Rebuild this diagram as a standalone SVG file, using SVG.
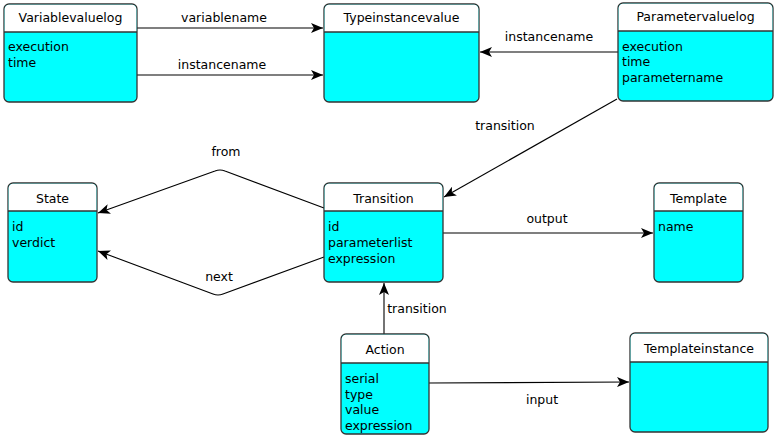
<svg xmlns="http://www.w3.org/2000/svg" width="774" height="436" viewBox="0 0 774 436">
  <style>
    .box { fill: #00ffff; stroke: #333; stroke-width: 1.3; }
    .head { fill: #ffffff; }
    .div { stroke: #333; stroke-width: 1.3; }
    .title { font-family: "DejaVu Sans", sans-serif; font-size: 12.5px; fill: #000; text-anchor: middle; }
    .attr { font-family: "DejaVu Sans", sans-serif; font-size: 12.5px; fill: #000; }
    .lbl { font-family: "DejaVu Sans", sans-serif; font-size: 12.5px; fill: #000; text-anchor: middle; }
    .edge { fill: none; stroke: #000; stroke-width: 1.1; }
  </style>
  <defs>
    <marker id="arrow" viewBox="0 0 12 10" refX="12" refY="5" markerWidth="12" markerHeight="10" markerUnits="userSpaceOnUse" orient="auto">
      <path d="M0,0 L12,5 L0,10 L3,5 Z" fill="#000"/>
    </marker>
  </defs>

  <rect width="774" height="436" fill="#ffffff"/>

  <!-- connectors -->
  <g id="connectors">
    <path class="edge" d="M137,28 L323,28" marker-end="url(#arrow)"/>
    <text class="lbl" x="224" y="22">variablename</text>
    <path class="edge" d="M137,75 L323,75" marker-end="url(#arrow)"/>
    <text class="lbl" x="222" y="69">instancename</text>
    <path class="edge" d="M618,52 L480,52" marker-end="url(#arrow)"/>
    <text class="lbl" x="549" y="41">instancename</text>
    <path class="edge" d="M617,99 L444,197" marker-end="url(#arrow)"/>
    <text class="lbl" x="505" y="130">transition</text>
    <path class="edge" d="M324,208 L225,171 Q220,169 215,171 L98,213" marker-end="url(#arrow)"/>
    <text class="lbl" x="226" y="156">from</text>
    <path class="edge" d="M324,257 L223,294 Q218,296 213,294 L98,251" marker-end="url(#arrow)"/>
    <text class="lbl" x="219" y="281">next</text>
    <path class="edge" d="M443,233 L653,233" marker-end="url(#arrow)"/>
    <text class="lbl" x="547" y="223">output</text>
    <path class="edge" d="M384,334 L384,283" marker-end="url(#arrow)"/>
    <text class="lbl" x="417" y="313">transition</text>
    <path class="edge" d="M429,383 L629,382" marker-end="url(#arrow)"/>
    <text class="lbl" x="542" y="404">input</text>
  </g>

  <!-- Variablevaluelog -->
  <g id="variablevaluelog">
    <rect class="box" x="4" y="4" width="133" height="98" rx="5"/>
    <path class="head" d="M9,4.7 H132 A4.3,4.3 0 0 1 136.3,9 V32 H4.7 V9 A4.3,4.3 0 0 1 9,4.7 Z"/>
    <line class="div" x1="4" y1="32" x2="137" y2="32"/>
    <text class="title" x="70.5" y="22">Variablevaluelog</text>
    <text class="attr" x="8" y="51">execution</text>
    <text class="attr" x="8" y="67">time</text>
  </g>

  <!-- Typeinstancevalue -->
  <g id="typeinstancevalue">
    <rect class="box" x="324" y="4" width="155" height="98" rx="5"/>
    <path class="head" d="M329,4.7 H474 A4.3,4.3 0 0 1 478.3,9 V32 H324.7 V9 A4.3,4.3 0 0 1 329,4.7 Z"/>
    <line class="div" x1="324" y1="32" x2="479" y2="32"/>
    <text class="title" x="401.5" y="22">Typeinstancevalue</text>
  </g>

  <!-- Parametervaluelog -->
  <g id="parametervaluelog">
    <rect class="box" x="618" y="3" width="155" height="98" rx="5"/>
    <path class="head" d="M623,3.7 H768 A4.3,4.3 0 0 1 772.3,8 V31 H618.7 V8 A4.3,4.3 0 0 1 623,3.7 Z"/>
    <line class="div" x1="618" y1="31" x2="773" y2="31"/>
    <text class="title" x="695.5" y="21">Parametervaluelog</text>
    <text class="attr" x="622" y="51">execution</text>
    <text class="attr" x="622" y="66">time</text>
    <text class="attr" x="622" y="82">parametername</text>
  </g>

  <!-- State -->
  <g id="state">
    <rect class="box" x="8" y="183" width="89" height="99" rx="5"/>
    <path class="head" d="M13,183.7 H92 A4.3,4.3 0 0 1 96.3,188 V211 H8.7 V188 A4.3,4.3 0 0 1 13,183.7 Z"/>
    <line class="div" x1="8" y1="211" x2="97" y2="211"/>
    <text class="title" x="52.5" y="203">State</text>
    <text class="attr" x="12" y="231">id</text>
    <text class="attr" x="12" y="247">verdict</text>
  </g>

  <!-- Transition -->
  <g id="transition">
    <rect class="box" x="324" y="183" width="119" height="99" rx="5"/>
    <path class="head" d="M329,183.7 H438 A4.3,4.3 0 0 1 442.3,188 V211 H324.7 V188 A4.3,4.3 0 0 1 329,183.7 Z"/>
    <line class="div" x1="324" y1="211" x2="443" y2="211"/>
    <text class="title" x="383.5" y="203">Transition</text>
    <text class="attr" x="328" y="231">id</text>
    <text class="attr" x="328" y="247">parameterlist</text>
    <text class="attr" x="328" y="263">expression</text>
  </g>

  <!-- Template -->
  <g id="template">
    <rect class="box" x="654" y="183" width="89" height="99" rx="5"/>
    <path class="head" d="M659,183.7 H738 A4.3,4.3 0 0 1 742.3,188 V211 H654.7 V188 A4.3,4.3 0 0 1 659,183.7 Z"/>
    <line class="div" x1="654" y1="211" x2="743" y2="211"/>
    <text class="title" x="698.5" y="203">Template</text>
    <text class="attr" x="658" y="231">name</text>
  </g>

  <!-- Action -->
  <g id="action">
    <rect class="box" x="341" y="334" width="88" height="100" rx="5"/>
    <path class="head" d="M346,334.7 H424 A4.3,4.3 0 0 1 428.3,339 V363 H341.7 V339 A4.3,4.3 0 0 1 346,334.7 Z"/>
    <line class="div" x1="341" y1="363" x2="429" y2="363"/>
    <text class="title" x="385" y="354">Action</text>
    <text class="attr" x="345" y="383">serial</text>
    <text class="attr" x="345" y="399">type</text>
    <text class="attr" x="345" y="414">value</text>
    <text class="attr" x="345" y="430">expression</text>
  </g>

  <!-- Templateinstance -->
  <g id="templateinstance">
    <rect class="box" x="630" y="333" width="138" height="99" rx="5"/>
    <path class="head" d="M635,333.7 H763 A4.3,4.3 0 0 1 767.3,338 V362 H630.7 V338 A4.3,4.3 0 0 1 635,333.7 Z"/>
    <line class="div" x1="630" y1="362" x2="768" y2="362"/>
    <text class="title" x="699" y="353">Templateinstance</text>
  </g>
</svg>
